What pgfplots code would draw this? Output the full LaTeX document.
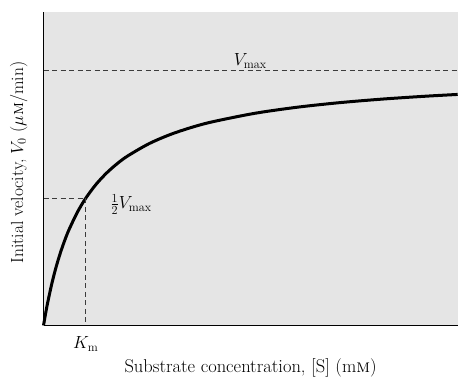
\RequirePackage{fix-cm}
\documentclass[border=0pt]{standalone}
\usepackage{fontspec}
\usepackage{pgfplots}
\pgfplotsset{compat=1.18}
\definecolor{bggray}{RGB}{229,229,229}
\definecolor{dashgray}{RGB}{60,60,60}
\begin{document}
\begin{tikzpicture}[font=\fontsize{17.5}{21}\selectfont]
\begin{axis}[
  scale only axis,
  width=414pt, height=313pt,
  xmin=0, xmax=9.8, ymin=0, ymax=1.23,
  axis x line=bottom, axis y line=left,
  axis line style={-, black, line width=0.9pt},
  xtick=\empty, ytick=\empty,
  axis background/.style={fill=bggray},
  clip=false,
  label style={font=\fontsize{17.5}{21}\selectfont},
  xlabel={Substrate concentration, [S] (m\textsc{m})},
  ylabel={Initial velocity, $V_0$ ($\mu$\textsc{m}/min)},
  xlabel style={at={(axis description cs:0.5,0)}, anchor=north, yshift=-30pt, font=\fontsize{18.5}{22}\selectfont},
  ylabel style={at={(axis description cs:-0.03,0.52)}, anchor=south},
]
\addplot[black, line width=3pt, smooth] coordinates {
(0,0) (0.05,0.0476) (0.1,0.0909) (0.2,0.1667) (0.3,0.2308) (0.4,0.2857)
(0.5,0.3333) (0.6,0.375) (0.8,0.4444) (1.0,0.5) (1.25,0.5556) (1.5,0.6)
(1.75,0.6364) (2,0.6667) (2.5,0.7143) (3,0.75) (3.5,0.7778) (4,0.8)
(5,0.8333) (6,0.8571) (7,0.875) (8,0.8889) (9,0.9) (9.8,0.9074)
};
\addplot[dashgray, line width=0.8pt, dash pattern=on 5pt off 3.5pt] coordinates {(0,1) (9.8,1)};
\addplot[dashgray, line width=0.8pt, dash pattern=on 5pt off 3.5pt] coordinates {(0,0.5) (1,0.5) (1,0)};
\node[anchor=south, font=\fontsize{17.5}{21}\selectfont] at (axis cs:4.89,0.995) {$V_{\max}$};
\node[anchor=west, font=\fontsize{17.5}{21}\selectfont] at (axis cs:1.5,0.475) {$\frac{1}{2}V_{\max}$};
\node[anchor=north, font=\fontsize{17.5}{21}\selectfont] at (axis cs:1,0) [yshift=-8pt] {$K_{\mathrm{m}}$};
\end{axis}
\path (current axis.south west) ++(-43.5pt,-62pt);
\path (current axis.north east) ++(7.3pt,12.3pt);
\end{tikzpicture}
\end{document}
